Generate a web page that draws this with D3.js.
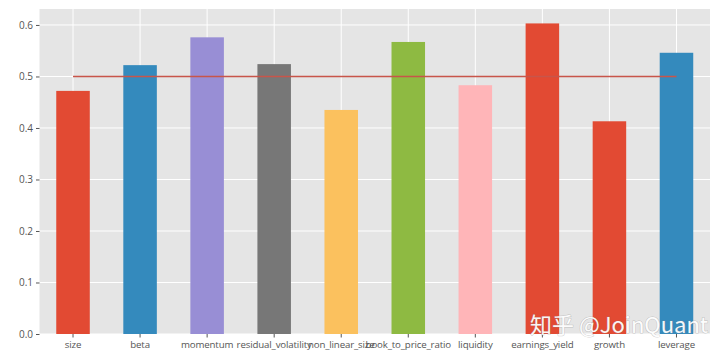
<!DOCTYPE html>
<html><head><meta charset="utf-8">
<script src="https://cdn.jsdelivr.net/npm/d3@7"></script>
<style>
body{margin:0;background:#fff;}
svg{display:block;}
</style></head>
<body>
<svg id="chart" width="727" height="357"></svg>
<script>
const categories = ["size","beta","momentum","residual_volatility","non_linear_size","book_to_price_ratio","liquidity","earnings_yield","growth","leverage"];
const values = [0.472, 0.522, 0.576, 0.524, 0.435, 0.567, 0.483, 0.603, 0.413, 0.546];
const barColors = ["#E24A33","#348ABD","#988ED5","#777777","#FBC15E","#8EBA42","#FFB5B8","#E24A33","#E24A33","#348ABD"];
const refValue = 0.5;
const yTicks = [0.0,0.1,0.2,0.3,0.4,0.5,0.6];

const svg = d3.select("#chart");
const m = {left:39.5, right:17, top:9, bottom:23};
const W = 727, H = 357;
const x = d3.scaleBand().domain(categories).range([m.left, W-m.right]).paddingInner(0).paddingOuter(0);
const y = d3.scaleLinear().domain([0, 0.631]).range([H-m.bottom, m.top]);

svg.append("rect").attr("x",m.left).attr("y",m.top).attr("width",W-m.right-m.left).attr("height",H-m.bottom-m.top).attr("fill","#E5E5E5");

// grid
const g = svg.append("g");
g.selectAll(".hg").data(yTicks).join("line")
  .attr("x1",m.left).attr("x2",W-m.right)
  .attr("y1",d=>y(d)).attr("y2",d=>y(d))
  .attr("stroke","#fff").attr("stroke-width",1);
g.selectAll(".vg").data(categories).join("line")
  .attr("x1",d=>x(d)+x.bandwidth()/2).attr("x2",d=>x(d)+x.bandwidth()/2)
  .attr("y1",m.top).attr("y2",H-m.bottom)
  .attr("stroke","#fff").attr("stroke-width",1);

// bars
const bw = x.bandwidth()*0.5;
svg.selectAll(".bar").data(categories).join("rect")
  .attr("x",(d)=>x(d)+x.bandwidth()/2-bw/2)
  .attr("width",bw)
  .attr("y",(d,i)=>y(values[i]))
  .attr("height",(d,i)=>y(0)-y(values[i]))
  .attr("fill",(d,i)=>barColors[i]);

// reference line
const line = d3.line().x(d=>x(d)+x.bandwidth()/2).y(()=>y(refValue));
svg.append("path").datum(categories).attr("d",line)
  .attr("fill","none").attr("stroke","#C8554A").attr("stroke-width",1.5);

// axes
const yAxis = d3.axisLeft(y).tickValues(yTicks).tickFormat(d3.format(".1f")).tickSize(3.5).tickPadding(3);
const ya = svg.append("g").attr("transform",`translate(${m.left},0)`).call(yAxis);
const xAxis = d3.axisBottom(x).tickSize(3.5).tickPadding(4);
const xa = svg.append("g").attr("transform",`translate(0,${H-m.bottom})`).call(xAxis);
[ya,xa].forEach(a=>{
  a.select(".domain").remove();
  a.selectAll(".tick line").attr("stroke","#555");
  a.selectAll("text").attr("fill","#555").style("font-family","'Open Sans', 'DejaVu Sans', sans-serif").style("font-size","10px");
});
xa.selectAll("text").style("font-size","9.7px").style("letter-spacing","-0.15px");

// watermark
svg.append("text").attr("x",530).attr("y",333)
  .text("知乎 @JoinQuant")
  .attr("fill","#fff").attr("fill-opacity",0.95)
  .style("font-family","'Noto Sans CJK SC', sans-serif").style("font-size","22px")
  .attr("stroke","#888").attr("stroke-opacity",0.4).attr("stroke-width",1)
  .attr("paint-order","stroke");
</script>
</body></html>
